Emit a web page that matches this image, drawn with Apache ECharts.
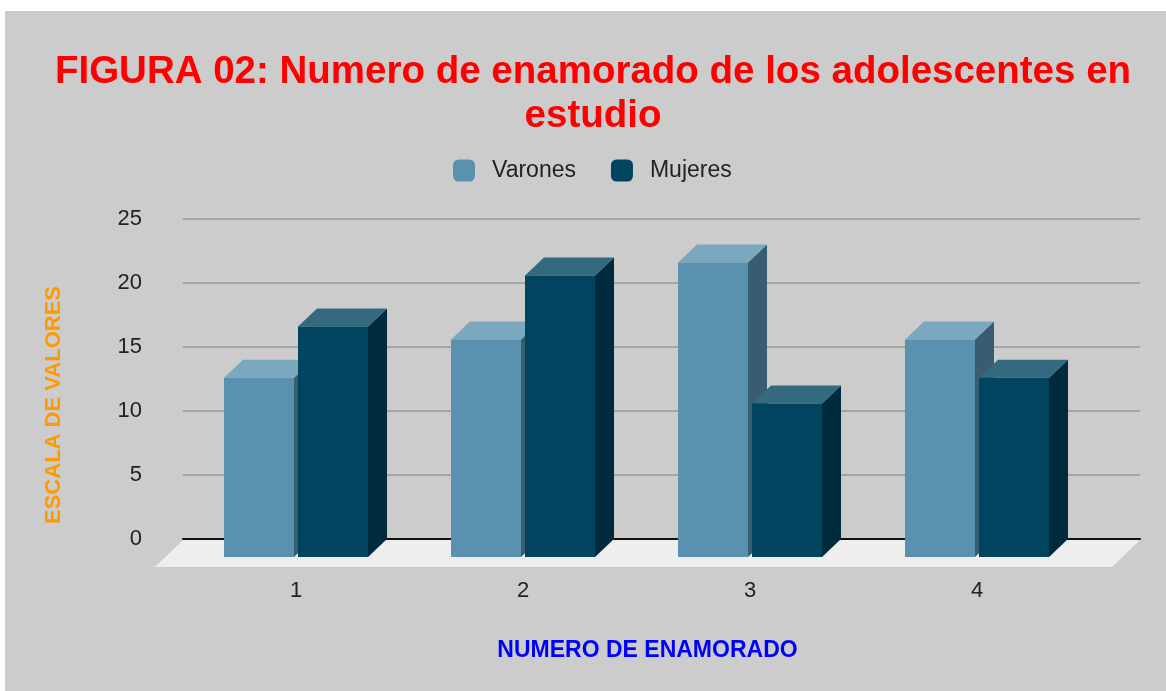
<!DOCTYPE html>
<html>
<head>
<meta charset="utf-8">
<script src="https://cdn.jsdelivr.net/npm/echarts@6/dist/echarts.min.js"></script>
<style>
  body { margin: 0; background: #ffffff; }
  #bg { position: absolute; left: 5px; top: 11px; width: 1161px; height: 680px; background: #cccccc; }
  #chart { position: absolute; left: 0; top: 0; width: 1166px; height: 691px; }
</style>
</head>
<body>
<div id="bg"></div>
<div id="chart"></div>
<script>
var categories = ['1', '2', '3', '4'];
var varones = [14, 17, 23, 17];
var mujeres = [18, 22, 12, 14];
var yTicks = [0, 25, 5]; // min, max, interval

var FONT = "'Liberation Sans', Arial, sans-serif";
var barW = 70, gap = 4;
var dX = 19, dY = 18;      // bar depth
var floorDX = 28, floorDY = 27;

var colV = { front: '#5a91af', top: '#7aa8bf', side: '#385d70' };
var colM = { front: '#00445f', top: '#336a80', side: '#002b3e' };

function makeBar(side, colors) {
    return function (params, api) {
        var c = api.coord([api.value(0), api.value(1)]);
        var b = api.coord([api.value(0), 0]);
        var x0 = side < 0 ? c[0] - gap / 2 - barW : c[0] + gap / 2;
        var x1 = x0 + barW;
        var top = c[1] + dY, bot = b[1] + dY;
        return {
            type: 'group',
            children: [
                { type: 'polygon', shape: { points: [[x1, top], [x1 + dX, top - dY], [x1 + dX, bot - dY], [x1, bot]] }, style: { fill: colors.side } },
                { type: 'polygon', shape: { points: [[x0, top], [x1, top], [x1 + dX, top - dY], [x0 + dX, top - dY]] }, style: { fill: colors.top } },
                { type: 'rect', shape: { x: x0, y: top, width: barW, height: bot - top }, style: { fill: colors.front } }
            ]
        };
    };
}

var chart = echarts.init(document.getElementById('chart'));
var option = {
    backgroundColor: 'transparent',
    animation: false,
    textStyle: { fontFamily: FONT },
    title: {
        text: 'FIGURA 02: Numero de enamorado de los adolescentes en\nestudio',
        left: 588,
        textAlign: 'center',
        top: 45,
        textStyle: { color: '#ff0000', fontSize: 38.5, fontWeight: 'bold', lineHeight: 44, fontFamily: FONT }
    },
    legend: {
        left: 448,
        top: 154,
        icon: 'roundRect',
        itemWidth: 22,
        itemHeight: 22,
        itemGap: 35,
        textStyle: { color: '#222222', fontSize: 23, padding: [0, 0, 0, 12], fontFamily: FONT },
        data: ['Varones', 'Mujeres']
    },
    grid: [
        { left: 183, right: 26, top: 219, height: 320 },
        { left: 182.5, right: 75.5, top: 219, height: 320 }
    ],
    xAxis: [
        {
            gridIndex: 0, type: 'value', min: 0, max: 1,
            axisLine: { show: true, lineStyle: { color: '#111111', width: 2 } },
            axisTick: { show: false }, axisLabel: { show: false }, splitLine: { show: false }
        },
        {
            gridIndex: 1, type: 'category', data: categories,
            axisLine: { show: false }, axisTick: { show: false },
            axisLabel: { color: '#222222', fontSize: 22, margin: 41, fontFamily: FONT },
            name: 'NUMERO DE ENAMORADO',
            nameLocation: 'middle',
            nameGap: 100,
            nameTextStyle: { color: '#0000ff', fontSize: 23, fontWeight: 'bold', padding: [0, 0, 0, 22], fontFamily: FONT }
        }
    ],
    yAxis: [
        {
            gridIndex: 0, type: 'value', min: yTicks[0], max: yTicks[1], interval: yTicks[2],
            axisLine: { show: false }, axisTick: { show: false },
            axisLabel: { color: '#222222', fontSize: 22, margin: 41, fontFamily: FONT },
            splitLine: { lineStyle: { color: '#999999', width: 1.5 } },
            name: 'ESCALA DE VALORES',
            nameLocation: 'middle',
            nameGap: 118,
            nameRotate: 90,
            nameTextStyle: { color: '#ff9900', fontSize: 22, fontWeight: 'bold', padding: [0, 52, 0, 0], fontFamily: FONT }
        },
        {
            gridIndex: 1, type: 'value', min: yTicks[0], max: yTicks[1], interval: yTicks[2], show: false
        }
    ],
    series: [
        {
            name: 'floor', type: 'custom', xAxisIndex: 0, yAxisIndex: 0, silent: true,
            data: [[0, 0]],
            renderItem: function (params, api) {
                var p0 = api.coord([0, 0]);
                var p1 = api.coord([1, 0]);
                return {
                    type: 'polygon',
                    shape: { points: [[p0[0], p0[1] + 1], [p1[0], p1[1] + 1], [p1[0] - floorDX, p1[1] + floorDY + 1], [p0[0] - floorDX, p0[1] + floorDY + 1]] },
                    style: { fill: '#eeeeee' }
                };
            }
        },
        {
            name: 'Varones', type: 'custom', xAxisIndex: 1, yAxisIndex: 1,
            itemStyle: { color: colV.front },
            data: varones.map(function (v, i) { return [i, v]; }),
            renderItem: makeBar(-1, colV)
        },
        {
            name: 'Mujeres', type: 'custom', xAxisIndex: 1, yAxisIndex: 1,
            itemStyle: { color: colM.front },
            data: mujeres.map(function (v, i) { return [i, v]; }),
            renderItem: makeBar(1, colM)
        }
    ]
};
chart.setOption(option);
</script>
</body>
</html>
